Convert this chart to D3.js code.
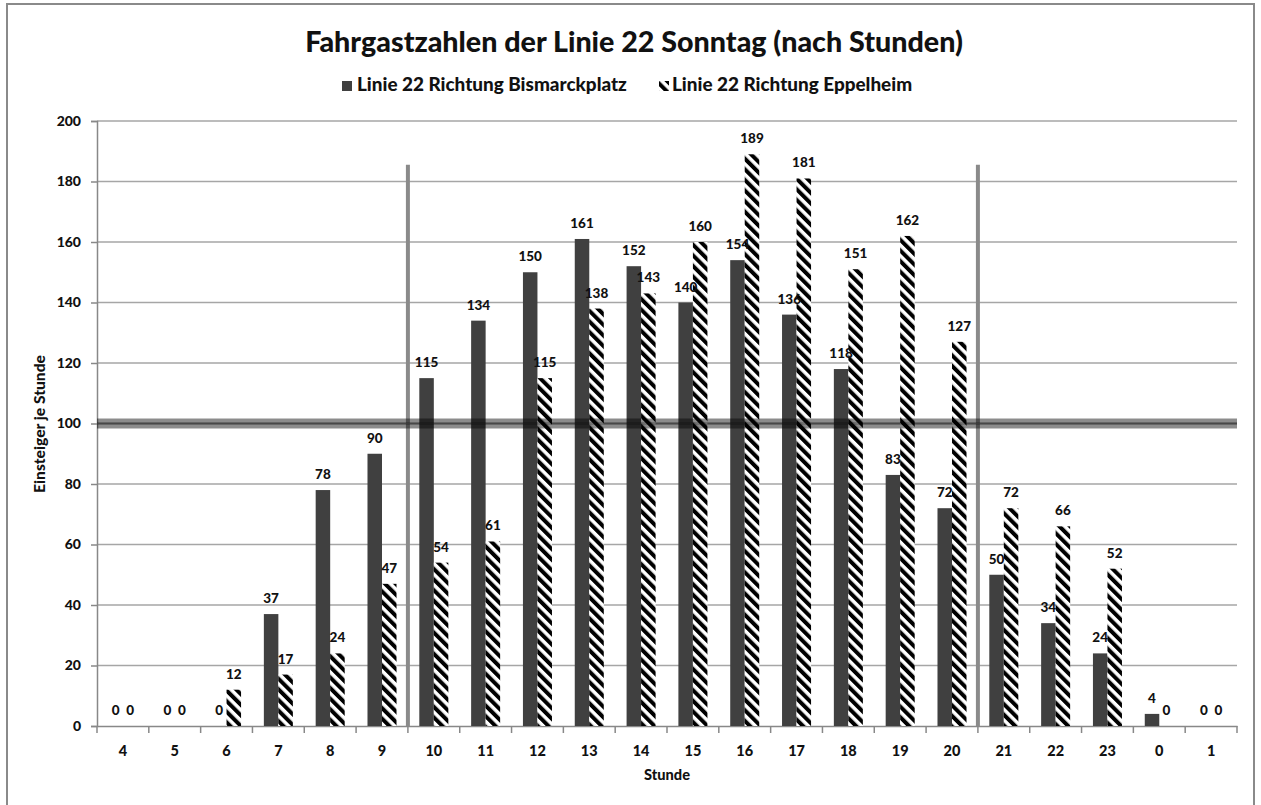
<!DOCTYPE html>
<html><head><meta charset="utf-8">
<script src="https://cdn.jsdelivr.net/npm/d3@7"></script>
<style>body{margin:0;background:#fff}text{font-family:Lato,"Open Sans",sans-serif;font-weight:900;fill:#111}</style>
</head><body>
<svg id="c" width="1261" height="805"></svg>
<script>
const hours = ["4","5","6","7","8","9","10","11","12","13","14","15","16","17","18","19","20","21","22","23","0","1"];
const bismarck = [0,0,0,37,78,90,115,134,150,161,152,140,154,136,118,83,72,50,34,24,4,0];
const eppelheim = [0,0,12,17,24,47,54,61,115,138,143,160,189,181,151,162,127,72,66,52,0,0];
const seriesNames = ["Linie 22 Richtung Bismarckplatz","Linie 22 Richtung Eppelheim"];
const yTicks = [0,20,40,60,80,100,120,140,160,180,200];
const refValue = 100;
const periodBounds = ["10","21"];
const periodTop = 185.5;
const title = "Fahrgastzahlen der Linie 22 Sonntag (nach Stunden)";
const xTitle = "Stunde";
const yTitle = "Einsteiger je Stunde";

const svg = d3.select("#c");
const L = 97, R = 1237, T = 121, B = 726;
const defs = svg.append("defs");
const pat = defs.append("pattern").attr("id","hatch").attr("patternUnits","userSpaceOnUse")
  .attr("width",7.5).attr("height",7.5).attr("patternTransform","rotate(-45)");
pat.append("rect").attr("width",7.5).attr("height",7.5).attr("fill","#fff");
pat.append("rect").attr("width",4).attr("height",7.5).attr("fill","#000");

// frame
svg.append("rect").attr("x",7).attr("y",4).attr("width",1247).attr("height",820)
  .attr("fill","#fff").attr("stroke","#8a8a8a").attr("stroke-width",2);

const x = d3.scaleBand().domain(hours).range([L,R]).paddingInner(0.44).paddingOuter(0.22);
const xs = d3.scaleBand().domain([0,1]).range([0,x.bandwidth()]);
const y = d3.scaleLinear().domain([0,200]).range([B,T]);

// gridlines
svg.append("g").selectAll("line").data(yTicks.filter(d=>d>0)).join("line")
  .attr("x1",L).attr("x2",R).attr("y1",d=>y(d)).attr("y2",d=>y(d))
  .attr("stroke","#a6a6a6").attr("stroke-width",1.5);

// y axis
const ya = svg.append("g").attr("transform",`translate(${L},0)`)
  .call(d3.axisLeft(y).tickValues(yTicks).tickSize(6).tickPadding(10));
ya.select(".domain").attr("stroke","#888").attr("stroke-width",1.5);
ya.selectAll(".tick line").attr("stroke","#888").attr("stroke-width",1.5);
ya.selectAll(".tick text").style("font-size","14px").attr("fill","#111");

// x axis
const step = x.step();
const xa = svg.append("g").attr("transform",`translate(0,${B})`)
  .call(d3.axisBottom(x).tickSize(0).tickPadding(20));
xa.select(".domain").attr("stroke","#888").attr("stroke-width",1.5);
xa.selectAll(".tick text").style("font-size","14.5px").attr("fill","#111");
xa.append("g").selectAll("line").data(d3.range(hours.length+1)).join("line")
  .attr("x1",i=>L+i*step).attr("x2",i=>L+i*step).attr("y1",0).attr("y2",7)
  .attr("stroke","#888").attr("stroke-width",1.5);

// bars
const series = [bismarck, eppelheim];
const fills = ["#404040","url(#hatch)"];
series.forEach((vals,si)=>{
  svg.append("g").selectAll("rect").data(vals).join("rect")
    .attr("x",(d,i)=>x(hours[i])+xs(si)).attr("width",xs.bandwidth())
    .attr("y",d=>y(d)).attr("height",d=>B-y(d)).attr("fill",fills[si]);
});

// period lines
svg.append("g").selectAll("line").data(periodBounds).join("line")
  .attr("x1",d=>x(d)-(step-x.bandwidth())/2).attr("x2",d=>x(d)-(step-x.bandwidth())/2)
  .attr("y1",y(periodTop)).attr("y2",B).attr("stroke","#8a8a8a").attr("stroke-width",4);

// reference line
svg.append("rect").attr("x",L).attr("width",R-L).attr("y",y(refValue)-5).attr("height",10)
  .attr("fill","#000").attr("opacity",0.45);
svg.append("rect").attr("x",L).attr("width",R-L).attr("y",y(refValue)-1.5).attr("height",3)
  .attr("fill","#000").attr("opacity",0.2);

// labels
series.forEach((vals,si)=>{
  svg.append("g").selectAll("text").data(vals).join("text")
    .attr("x",(d,i)=>x(hours[i])+xs(si)+xs.bandwidth()/2).attr("y",d=>y(d)-11)
    .attr("text-anchor","middle").style("font-size","13.5px").text(d=>d);
});

function fit(sel,target){const w=sel.node().getComputedTextLength();const fs=parseFloat(sel.style("font-size"));sel.style("font-size",(fs*target/w)+"px");}

// title
const tt = svg.append("text").attr("x",634).attr("y",52).attr("text-anchor","middle").style("font-size","26px").text(title);
fit(tt,658);

// legend
svg.append("rect").attr("x",342).attr("y",81).attr("width",10).attr("height",10).attr("fill","#404040");
const l1 = svg.append("text").attr("x",357).attr("y",91).style("font-size","15px").text(seriesNames[0]);
fit(l1,270);
svg.append("rect").attr("x",659).attr("y",81).attr("width",10).attr("height",10).attr("fill","url(#hatch)");
const l2 = svg.append("text").attr("x",672).attr("y",91).style("font-size",l1.style("font-size")).text(seriesNames[1]);

// axis titles
const xt = svg.append("text").attr("x",667).attr("y",780).attr("text-anchor","middle").style("font-size","13px").text(xTitle);
fit(xt,46);
const yt = svg.append("text").attr("transform","translate(45,424) rotate(-90)").attr("text-anchor","middle").style("font-size","13px").text(yTitle);
fit(yt,138);
</script>
</body></html>
